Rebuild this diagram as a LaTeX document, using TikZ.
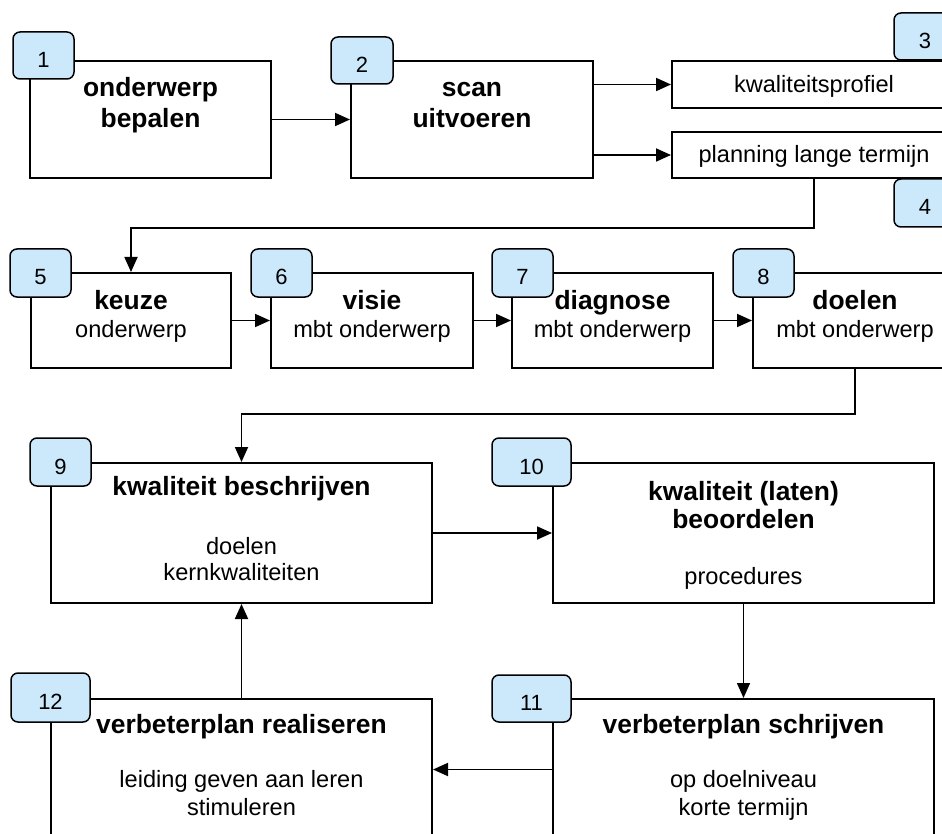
\documentclass[tikz,border=0pt]{standalone}
\usepackage{fontspec}
\setmainfont{Liberation Sans}
\usetikzlibrary{arrows.meta}
\definecolor{tagblue}{RGB}{204,233,252}
\tikzset{
  mainbox/.style={draw=black, line width=2pt, fill=white, rectangle, inner sep=0pt, outer sep=0pt, anchor=north west},
  tagbox/.style={draw=black, line width=1.5pt, fill=tagblue, rounded corners=7pt, inner sep=0pt, outer sep=0pt, anchor=north west,
    font=\fontsize{22}{26}\selectfont, text height=24pt, text depth=0pt},
  ttl/.style={anchor=base, inner sep=0pt, font=\fontsize{26.4}{30}\selectfont\bfseries},
  txt/.style={anchor=base, inner sep=0pt, font=\fontsize{23.6}{28}\selectfont},
  arr/.style={draw=black, line width=1.8pt, shorten >=1pt, -{Triangle[length=15pt,width=13pt]}},
}
\begin{document}
\begin{tikzpicture}[x=1pt,y=-1pt]
\useasboundingbox (0,0) rectangle (942,834);
\clip (0,0) rectangle (942,834);
% main boxes
\node[mainbox, minimum width=241, minimum height=117] (b1) at (30,61) {};
\node[mainbox, minimum width=242, minimum height=117] (b2) at (351,61) {};
\node[mainbox, minimum width=284, minimum height=47] (p3) at (672,61) {};
\node[mainbox, minimum width=284, minimum height=46] (p4) at (672,132) {};
\node[mainbox, minimum width=200, minimum height=95] (b5) at (31,273) {};
\node[mainbox, minimum width=202, minimum height=95] (b6) at (271,273) {};
\node[mainbox, minimum width=201, minimum height=95] (b7) at (512,273) {};
\node[mainbox, minimum width=204, minimum height=95] (b8) at (753,273) {};
\node[mainbox, minimum width=381, minimum height=140] (b9) at (51,463) {};
\node[mainbox, minimum width=381, minimum height=140] (b10) at (553,463) {};
\node[mainbox, minimum width=381, minimum height=141] (b11) at (553,699) {};
\node[mainbox, minimum width=381, minimum height=141] (b12) at (51,699) {};
% tags
\node[tagbox, minimum width=61, minimum height=47] (n1) at (13,32) {1};
\node[tagbox, minimum width=62, minimum height=47] (n2) at (331,37) {2};
\node[tagbox, minimum width=62, minimum height=47] (n3) at (894,13) {3};
\node[tagbox, minimum width=62, minimum height=48] (n4) at (894,179) {4};
\node[tagbox, minimum width=61, minimum height=48] (n5) at (10,249) {5};
\node[tagbox, minimum width=61, minimum height=48] (n6) at (251,249) {6};
\node[tagbox, minimum width=61, minimum height=48] (n7) at (492,249) {7};
\node[tagbox, minimum width=61, minimum height=48] (n8) at (733,249) {8};
\node[tagbox, minimum width=61, minimum height=48] (n9) at (30,438) {9};
\node[tagbox, minimum width=79, minimum height=48] (n10) at (492,438) {10};
\node[tagbox, minimum width=79, minimum height=47] (n11) at (492,675) {11};
\node[tagbox, minimum width=79, minimum height=49] (n12) at (11,673) {12};
% texts
\node[ttl] (t1a) at (150.5,97) {onderwerp};
\node[ttl] (t1b) at (150.5,128) {bepalen};
\node[ttl] (t2a) at (472,97) {scan};
\node[ttl] (t2b) at (472,128) {uitvoeren};
\node[txt] (t3) at (814,93) {kwaliteitsprofiel};
\node[txt] (t4) at (814,163) {planning lange termijn};
\node[ttl] (t5a) at (131,309) {keuze};
\node[txt] (t5b) at (131,337) {onderwerp};
\node[ttl] (t6a) at (372,309) {visie};
\node[txt] (t6b) at (372,337) {mbt onderwerp};
\node[ttl] (t7a) at (612.5,309) {diagnose};
\node[txt] (t7b) at (612.5,337) {mbt onderwerp};
\node[ttl] (t8a) at (855,309) {doelen};
\node[txt] (t8b) at (855,337) {mbt onderwerp};
\node[ttl] (t9a) at (241.5,495) {kwaliteit beschrijven};
\node[txt] (t9b) at (241.5,554) {doelen};
\node[txt] (t9c) at (241.5,580) {kernkwaliteiten};
\node[ttl] (t10a) at (743.5,500) {kwaliteit (laten)};
\node[ttl] (t10b) at (743.5,528) {beoordelen};
\node[txt] (t10c) at (743.5,584) {procedures};
\node[ttl] (t11a) at (743.5,733) {verbeterplan schrijven};
\node[txt] (t11b) at (743.5,787) {op doelniveau};
\node[txt] (t11c) at (743.5,815) {korte termijn};
\node[ttl] (t12a) at (241.5,733) {verbeterplan realiseren};
\node[txt] (t12b) at (241.5,787) {leiding geven aan leren};
\node[txt] (t12c) at (241.5,815) {stimuleren};
% connectors
\coordinate (k1) at (814,228);
\coordinate (k2) at (855,414);
\draw[arr] (b1.east) -- (b2.west);
\draw[arr] (b2.east |- p3.west) -- (p3.west);
\draw[arr] (b2.east |- p4.west) -- (p4.west);
\draw[arr] (p4.south) -- (p4.south |- k1) -| (b5.north);
\draw[arr] (b5.east) -- (b6.west);
\draw[arr] (b6.east) -- (b7.west);
\draw[arr] (b7.east) -- (b8.west);
\draw[arr] (b8.south) -- (b8.south |- k2) -| (b9.north);
\draw[arr] (b9.east) -- (b10.west);
\draw[arr, line width=1.4pt] (b10.south) -- (b11.north);
\draw[arr] (b11.west) -- (b12.east);
\draw[arr] (b12.north) -- (b9.south);
\end{tikzpicture}
\end{document}
